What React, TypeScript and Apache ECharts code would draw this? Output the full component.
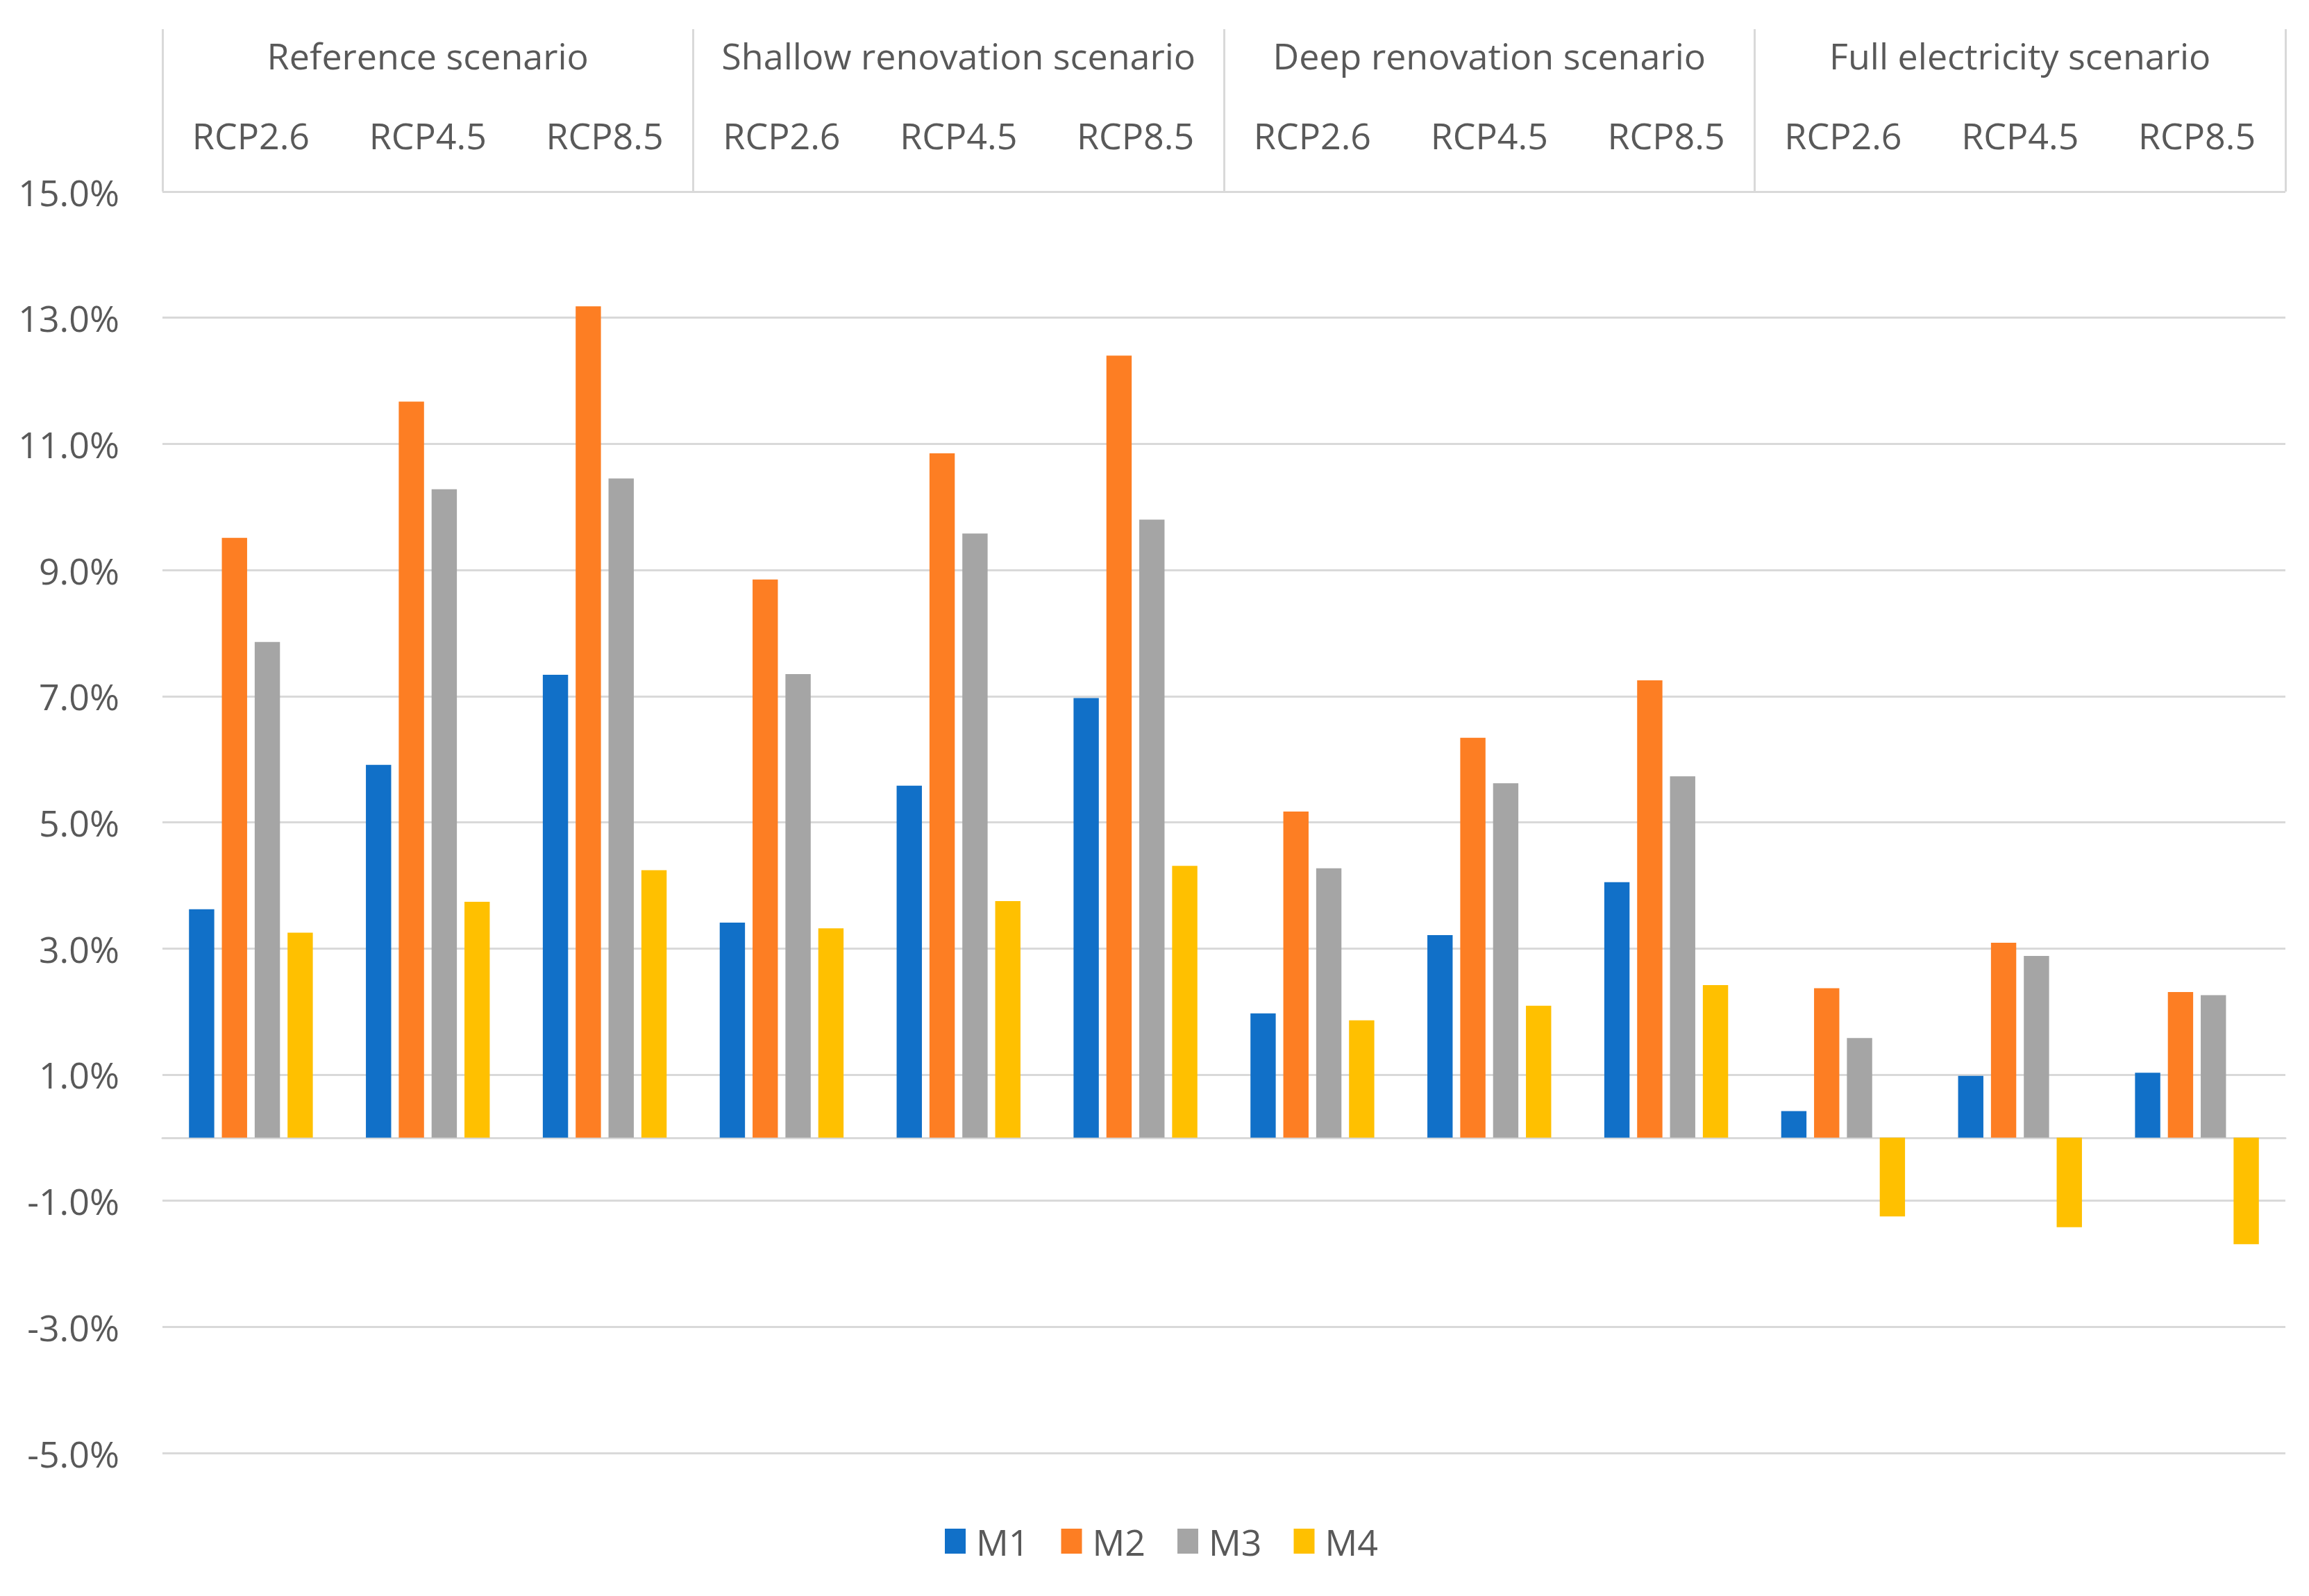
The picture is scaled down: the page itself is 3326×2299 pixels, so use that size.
import React, { useEffect, useRef } from "react";
import * as echarts from "echarts";

const scenarios = [
  "Reference scenario",
  "Shallow renovation scenario",
  "Deep renovation scenario",
  "Full electricity scenario",
];
const rcps = [
  "RCP2.6", "RCP4.5", "RCP8.5",
  "RCP2.6", "RCP4.5", "RCP8.5",
  "RCP2.6", "RCP4.5", "RCP8.5",
  "RCP2.6", "RCP4.5", "RCP8.5",
];
const seriesNames = ["M1", "M2", "M3", "M4"];
const m1 = [3.62, 5.91, 7.34, 3.41, 5.58, 6.97, 1.97, 3.21, 4.05, 0.42, 0.98, 1.03];
const m2 = [9.51, 11.67, 13.18, 8.85, 10.85, 12.4, 5.17, 6.34, 7.25, 2.37, 3.09, 2.31];
const m3 = [7.86, 10.28, 10.45, 7.35, 9.58, 9.8, 4.27, 5.62, 5.73, 1.58, 2.88, 2.26];
const m4 = [3.25, 3.74, 4.24, 3.32, 3.75, 4.31, 1.86, 2.09, 2.42, -1.25, -1.42, -1.69];
const yMin = -5;
const yMax = 15;
const yStep = 2;

const colors = ["#1170c8", "#fd7e23", "#a5a5a5", "#ffc000"];
const FONT = "'Open Sans', 'Noto Sans', sans-serif";
const TEXT = "#595959";
const LINE = "#d9d9d9";

export default function App() {
  const ref = useRef<HTMLDivElement>(null);
  useEffect(() => {
    document.body.style.margin = "0";
    if (!ref.current) return;
    const chart = echarts.init(ref.current, undefined, { renderer: "svg" });
    const values = [m1, m2, m3, m4];
    chart.setOption({
      animation: false,
      backgroundColor: "#ffffff",
      textStyle: { fontFamily: FONT },
      grid: { left: 234, right: 34, top: 276, bottom: 206, containLabel: false },
      legend: {
        data: seriesNames,
        left: 1356,
        top: 2189,
        itemWidth: 30,
        itemHeight: 36,
        itemGap: 46,
        icon: "rect",
        textStyle: { fontSize: 52, color: TEXT, fontFamily: FONT, padding: [0, 0, 0, 10] },
      },
      xAxis: [
        {
          type: "category",
          data: rcps,
          position: "top",
          axisLine: { show: false, onZero: false },
          axisTick: { show: false },
          axisLabel: { interval: 0, fontSize: 52, color: TEXT, margin: 56, fontFamily: FONT },
          splitLine: { show: false },
        },
        {
          type: "category",
          data: scenarios,
          position: "top",
          axisLine: { show: false, onZero: false },
          axisTick: { show: true, interval: 0, length: 234, lineStyle: { color: LINE, width: 3 } },
          axisLabel: { interval: 0, fontSize: 52, color: TEXT, margin: 171, fontFamily: FONT },
          splitLine: { show: false },
        },
        {
          type: "category",
          data: rcps,
          position: "bottom",
          axisLine: { show: true, onZero: true, lineStyle: { color: LINE, width: 3 } },
          axisTick: { show: false },
          axisLabel: { show: false },
          splitLine: { show: false },
        },
      ],
      yAxis: {
        type: "value",
        min: yMin,
        max: yMax,
        interval: yStep,
        axisLine: { show: false },
        axisTick: { show: false },
        axisLabel: {
          fontSize: 52,
          color: TEXT,
          margin: 62,
          fontFamily: FONT,
          formatter: (v: number) => v.toFixed(1) + "%",
        },
        splitLine: { show: true, lineStyle: { color: LINE, width: 3 } },
      },
      series: seriesNames.map((name, i) => ({
        name,
        type: "bar",
        xAxisIndex: 0,
        data: values[i],
        barGap: "30%",
        barCategoryGap: "30%",
        itemStyle: { color: colors[i] },
      })),
    });
    return () => chart.dispose();
  }, []);
  return <div ref={ref} style={{ width: 3326, height: 2299 }} />;
}
